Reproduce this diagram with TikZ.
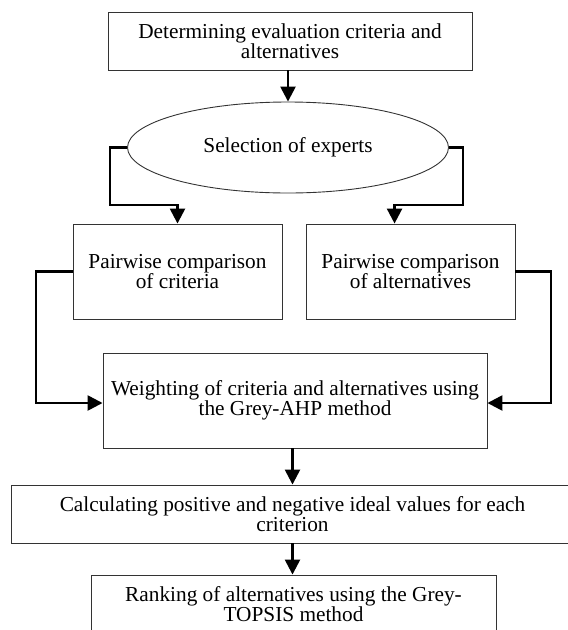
\documentclass[tikz,border=0pt]{standalone}
\usepackage{fontspec}
\setmainfont{Liberation Serif}
\usetikzlibrary{arrows.meta,shapes.geometric}
\begin{document}
\begin{tikzpicture}[x=1pt,y=-1pt,
  txt/.style={align=center, inner sep=0pt, font=\fontsize{21.3}{20}\selectfont},
  box/.style={txt, draw=black!80, line width=0.9pt, rectangle},
  ellbox/.style={txt, draw=black!80, line width=0.9pt, ellipse},
  conn/.style={line width=2.5pt, -{Triangle[length=15pt,width=15pt]}}]
\useasboundingbox (0,0) rectangle (568,630);
\clip (0,0) rectangle (568,630);

\node[box, minimum width=364pt, minimum height=58pt] (top) at (290,41)
  {Determining evaluation criteria and\\alternatives};
\node[ellbox, minimum width=321pt, minimum height=91pt] (ell) at (288,147.5)
  {Selection of experts};
\node[box, minimum width=209pt, minimum height=95pt] (pc) at (177.5,271.5)
  {Pairwise comparison\\of criteria};
\node[box, minimum width=209pt, minimum height=95pt] (pa) at (410.5,271.5)
  {Pairwise comparison\\of alternatives};
\node[box, minimum width=384pt, minimum height=95pt] (w) at (295,400.5)
  {Weighting of criteria and alternatives using\\the Grey-AHP method};
\node[box, minimum width=563pt, minimum height=58pt] (calc) at (292.5,514)
  {Calculating positive and negative ideal values for each\\criterion};
\node[box, minimum width=405pt, minimum height=58pt] (rank) at (293.5,604)
  {Ranking of alternatives using the Grey-\\TOPSIS method};

\coordinate (l1) at (110,205);
\coordinate (r1) at (463,205);
\coordinate (l2) at (36,403);
\coordinate (r2) at (551,403);

\draw[conn] (ell.north |- top.south) -- (ell.north);
\draw[conn] (ell.west) -| (l1) -| (pc.north);
\draw[conn] (ell.east) -| (r1) -| ([xshift=89pt]pa.north west);
\draw[conn] (pc.west) -| (l2) -- (w.west |- l2);
\draw[conn] (pa.east) -| (r2) -- (w.east |- r2);
\draw[conn] (w.south -| calc.north) -- (calc.north);
\draw[conn] (calc.south) -- (calc.south |- rank.north);
\end{tikzpicture}
\end{document}
